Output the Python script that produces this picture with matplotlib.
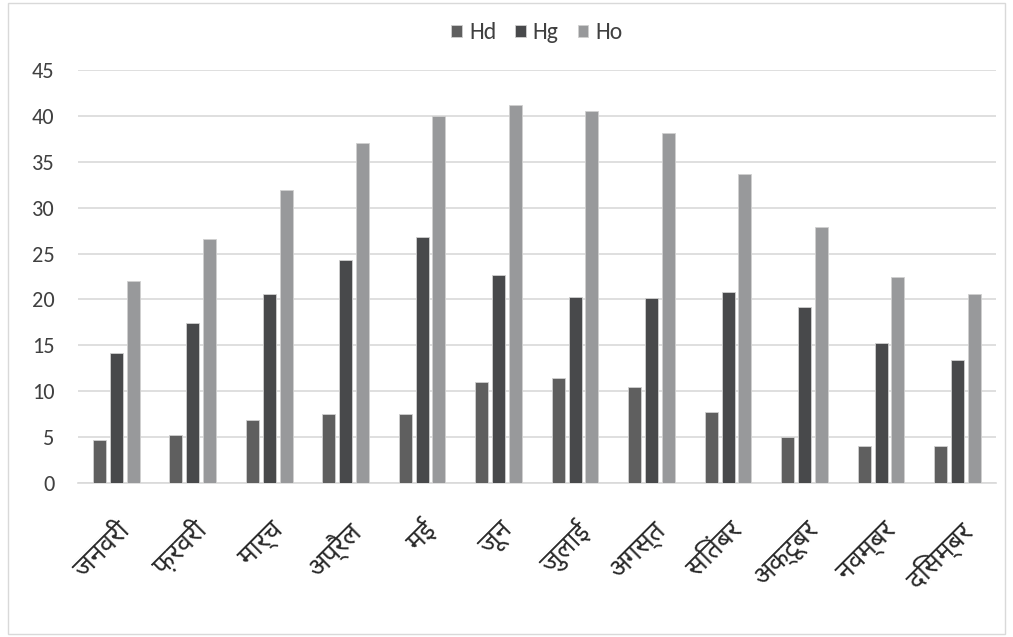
import numpy as np
import matplotlib
matplotlib.use("Agg")
import matplotlib.pyplot as plt
from matplotlib import font_manager
from matplotlib.patches import Rectangle

# Monthly values
months = ["जनवरी", "फ़रवरी", "मार्च", "अप्रैल", "मई", "जून",
          "जुलाई", "अगस्त", "सितंबर", "अक्टूबर", "नवम्बर", "दिसम्बर"]
hd = [4.7, 5.2, 6.8, 7.5, 7.5, 11.0, 11.4, 10.5, 7.7, 5.0, 4.0, 4.0]
hg = [14.2, 17.4, 20.6, 24.3, 26.8, 22.7, 20.3, 20.1, 20.8, 19.2, 15.3, 13.4]
ho = [22.0, 26.6, 31.9, 37.0, 40.0, 41.2, 40.5, 38.1, 33.7, 27.9, 22.4, 20.6]
series = ["Hd", "Hg", "Ho"]
colors = ["#5f5f5f", "#48494b", "#98999b"]

installed = {f.name for f in font_manager.fontManager.ttflist}


def first_font(names, default):
    for n in names:
        if n in installed:
            return n
    return default


deva = first_font(["Noto Sans Devanagari", "Hind", "Mukta", "Amiko", "FreeSans"], "DejaVu Sans")
base = first_font(["Carlito", "Liberation Sans Narrow", "Open Sans"], "DejaVu Sans")
plt.rcParams["font.family"] = [base, "DejaVu Sans"]

fig = plt.figure(figsize=(10.13, 6.37), dpi=100)
# thin border round the chart
fig.patches.append(Rectangle((0.008, 0.005), 0.984, 0.99, transform=fig.transFigure,
                             fill=False, edgecolor="#d9d9d9", lw=1))

ax = fig.add_axes([0.077, 0.242, 0.906, 0.648])
x = np.arange(len(months))
width = 0.17
offsets = [-0.22, 0, 0.22]
for vals, name, col, off in zip([hd, hg, ho], series, colors, offsets):
    ax.bar(x + off, vals, width, color=col, edgecolor="#d0d0d0", lw=0.6, label=name, zorder=3)

ax.set_xlim(-0.5, len(months) - 0.5)
ax.set_ylim(0, 45)
ax.set_yticks(range(0, 46, 5))
ax.grid(axis="y", color="#d9d9d9", lw=1.2, zorder=0)
for s in ["top", "right", "left"]:
    ax.spines[s].set_visible(False)
ax.spines["bottom"].set_color("#d9d9d9")
ax.spines["bottom"].set_linewidth(1.2)
ax.tick_params(axis="y", length=0, labelsize=16, colors="#404040", pad=17)
ax.set_xticks(x)
ax.set_xticklabels(months, rotation=45, ha="right", rotation_mode="anchor",
                   family=[deva, "DejaVu Sans"], fontsize=19, color="#2a2a2a")
ax.tick_params(axis="x", length=0, pad=24)

ax.legend(loc="center", bbox_to_anchor=(0.5, 1.09), ncol=3, frameon=False,
          fontsize=17, handlelength=0.45, handleheight=0.45, handletextpad=0.3,
          columnspacing=0.8, labelcolor="#404040")

fig.savefig("out.png", dpi=100)
